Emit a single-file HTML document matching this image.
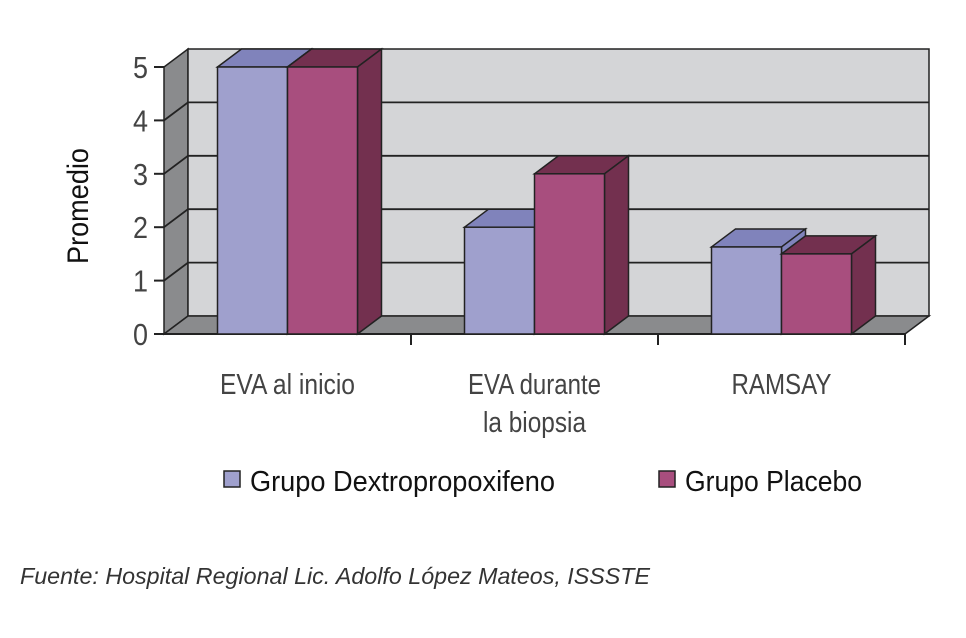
<!DOCTYPE html>
<html><head><meta charset="utf-8"><style>
body{margin:0;background:#fff;width:966px;height:633px;overflow:hidden}
svg text{font-family:"Liberation Sans",sans-serif}
</style></head><body>
<svg id="c" width="966" height="633"></svg>
<script>
const categories=[["EVA al inicio"],["EVA durante","la biopsia"],["RAMSAY"]];
const dextro=[5,2,1.63];
const placebo=[5,3,1.5];
const ticks=[0,1,2,3,4,5];
const seriesNames=["Grupo Dextropropoxifeno","Grupo Placebo"];
const NS="http://www.w3.org/2000/svg";
const svg=document.getElementById('c');
function el(t,a,p){const e=document.createElementNS(NS,t);for(const k in a)e.setAttribute(k,a[k]);(p||svg).appendChild(e);return e;}
const X0=164,X1=905,Y0=334,U=53.4,DX=24,DY=-18;
const y=v=>Y0-v*U;
const catW=(X1-X0)/3;
const cx=i=>X0+catW*(i+0.5);
const BW=70;
let w=el('polygon',{points:`${X0},${y(0)} ${X0+DX},${y(0)+DY} ${X0+DX},${y(5)+DY} ${X0},${y(5)}`,fill:'#8a8b8d',stroke:'#222','stroke-width':1.5});

w=el('rect',{x:X0+DX,y:y(5)+DY,width:X1-X0,height:5*U,fill:'#d4d5d7',stroke:'#222','stroke-width':1.5});

w=el('polygon',{points:`${X0},${Y0} ${X0+DX},${Y0+DY} ${X1+DX},${Y0+DY} ${X1},${Y0}`,fill:'#8a8b8d',stroke:'#222','stroke-width':1.5});

ticks.forEach(t=>{
 if(t>0&&t<5){const g=el('polyline',{points:`${X0},${y(t)} ${X0+DX},${y(t)+DY} ${X1+DX},${y(t)+DY}`,fill:'none',stroke:'#222','stroke-width':1.8});
 }
 const tk=el('line',{x1:X0-10,x2:X0,y1:y(t),y2:y(t),stroke:'#222','stroke-width':2});
 
 const tl=el('text',{x:X0-16,y:y(t)+11,'text-anchor':'end','font-size':31,fill:'#444','textLength':15,'lengthAdjust':'spacingAndGlyphs'});tl.textContent=t;
 
});
const ax=el('line',{x1:X0-10,x2:X1,y1:Y0,y2:Y0,stroke:'#222','stroke-width':2});

for(let i=1;i<=3;i++){const t=el('line',{x1:X0+catW*i,x2:X0+catW*i,y1:Y0,y2:Y0+11,stroke:'#222','stroke-width':2});
 }
function bar(x,v,front,top,side,name){
 const g=el('g',{});
 const yt=y(v);
 el('polygon',{points:`${x},${yt} ${x+DX},${yt+DY} ${x+BW+DX},${yt+DY} ${x+BW},${yt}`,fill:top,stroke:'#222','stroke-width':1.5},g);
 el('polygon',{points:`${x+BW},${Y0} ${x+BW+DX},${Y0+DY} ${x+BW+DX},${yt+DY} ${x+BW},${yt}`,fill:side,stroke:'#222','stroke-width':1.5},g);
 el('rect',{x:x,y:yt,width:BW,height:Y0-yt,fill:front,stroke:'#222','stroke-width':1.5},g);
}
const lw={"EVA al inicio":135,"EVA durante":133,"la biopsia":103,"RAMSAY":100};
categories.forEach((c,i)=>{
 bar(cx(i)-BW,dextro[i],'#9fa0cd','#8083bb','#8083bb','bar-dextro-'+i);
 bar(cx(i),placebo[i],'#a84e7e','#73304f','#73304f','bar-placebo-'+i);
 c.forEach((ln,j)=>{const t=el('text',{x:cx(i),y:394+j*38,'text-anchor':'middle','font-size':29,fill:'#444',textLength:lw[ln]||120,lengthAdjust:'spacingAndGlyphs'});t.textContent=ln;
 });
});
const yt=el('text',{x:0,y:0,transform:'translate(88,206) rotate(-90)','text-anchor':'middle','font-size':30,fill:'#111',textLength:116,lengthAdjust:'spacingAndGlyphs'});yt.textContent='Promedio';

const leg=[[224,250,'#9fa0cd',305],[659,685,'#a84e7e',177]];
leg.forEach((l,i)=>{
 const g=el('g',{});
 el('rect',{x:l[0],y:471,width:16,height:16,fill:l[2],stroke:'#222','stroke-width':1.5},g);
 const t=el('text',{x:l[1],y:491,'font-size':29,fill:'#111',textLength:l[3],lengthAdjust:'spacingAndGlyphs'},g);t.textContent=seriesNames[i];
});
const f=el('text',{x:20,y:584,'font-size':23,'font-style':'italic',fill:'#333',textLength:630,lengthAdjust:'spacingAndGlyphs'});f.textContent='Fuente: Hospital Regional Lic. Adolfo López Mateos, ISSSTE';

</script>
</body></html>
